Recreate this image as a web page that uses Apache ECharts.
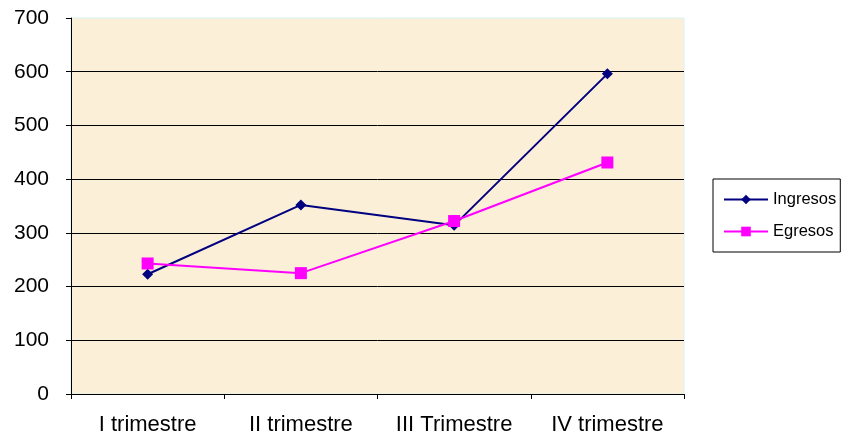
<!DOCTYPE html>
<html>
<head>
<meta charset="utf-8">
<script src="https://cdn.jsdelivr.net/npm/echarts@6/dist/echarts.min.js"></script>
<style>
  html, body { margin: 0; padding: 0; background: #fff; }
  #chart { width: 841px; height: 436px; }
</style>
</head>
<body>
<div id="chart"></div>
<script>
var categories = ['I trimestre', 'II trimestre', 'III Trimestre', 'IV trimestre']
var ingresos = [223, 352, 314, 596]
var egresos = [243, 225, 322, 431]

var chart = echarts.init(document.getElementById('chart'))
chart.setOption({
  animation: false,
  textStyle: { fontFamily: 'Liberation Sans, Arial, sans-serif' },
  grid: {
    left: 71,
    right: 157,
    top: 18,
    bottom: 42,
    show: true,
    backgroundColor: '#FBEFD7',
    borderColor: '#D8F2F2',
    borderWidth: 1
  },
  legend: {
    orient: 'vertical',
    left: 713,
    top: 179,
    padding: [12, 4, 12, 10],
    itemGap: 15,
    itemWidth: 44,
    itemHeight: 12,
    borderColor: '#000',
    borderWidth: 1,
    borderRadius: 0,
    textStyle: { color: '#000', fontSize: 16.5 },
    data: ['Ingresos', 'Egresos']
  },
  xAxis: {
    type: 'category',
    data: categories,
    boundaryGap: true,
    axisLine: { lineStyle: { color: '#000', width: 1 } },
    axisTick: { show: true, alignWithLabel: false, length: 5, lineStyle: { color: '#000' } },
    axisLabel: { color: '#000', fontSize: 22, margin: 20 }
  },
  yAxis: {
    type: 'value',
    min: 0,
    max: 700,
    interval: 100,
    axisLine: { show: true, lineStyle: { color: '#000', width: 1 } },
    axisTick: { show: true, length: 5, lineStyle: { color: '#000' } },
    axisLabel: { color: '#000', fontSize: 21, margin: 22 },
    splitLine: { show: true, showMaxLine: false, lineStyle: { color: '#000', width: 1 } }
  },
  series: [
    {
      name: 'Ingresos',
      type: 'line',
      data: ingresos,
      symbol: 'diamond',
      symbolSize: 11,
      lineStyle: { color: '#000080', width: 2 },
      itemStyle: { color: '#000080' }
    },
    {
      name: 'Egresos',
      type: 'line',
      data: egresos,
      symbol: 'rect',
      symbolSize: 12,
      lineStyle: { color: '#FF00FF', width: 2 },
      itemStyle: { color: '#FF00FF' }
    }
  ]
})
</script>
</body>
</html>
